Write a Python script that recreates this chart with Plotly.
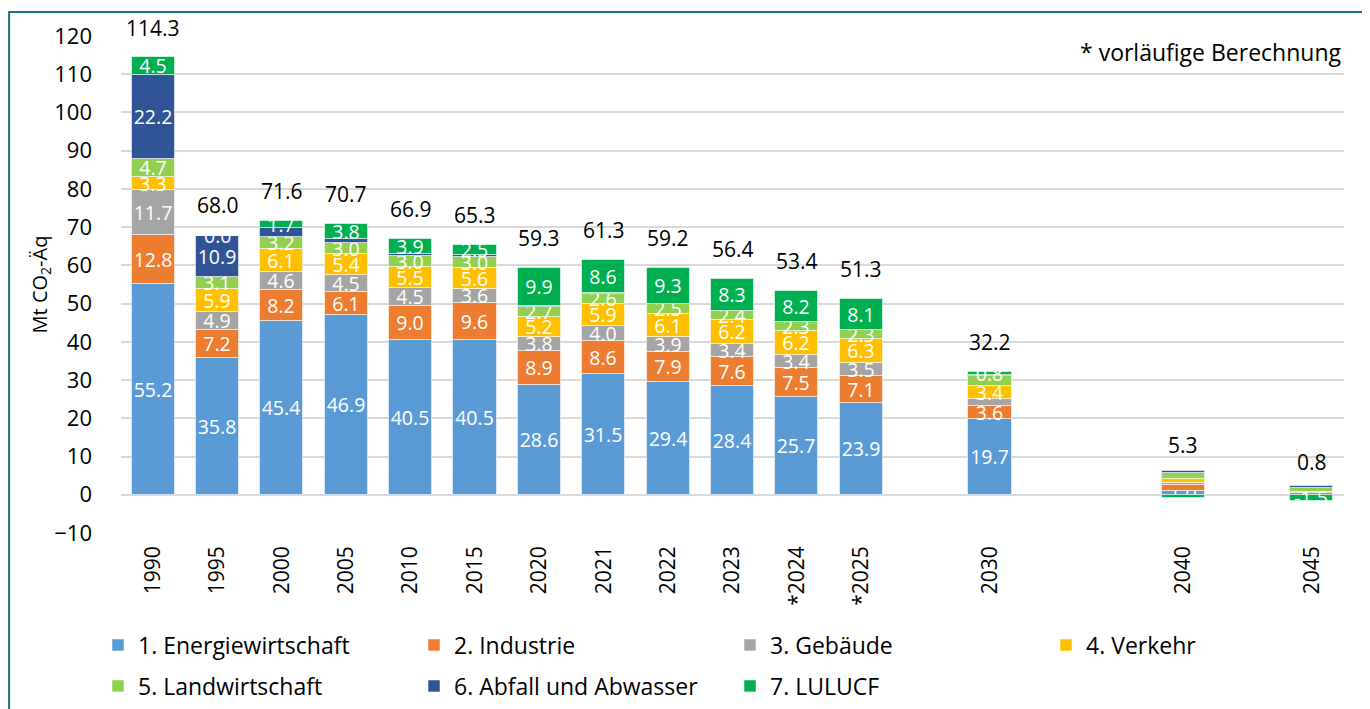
import plotly.graph_objects as go

# ---- data ----
years = ["1990", "1995", "2000", "2005", "2010", "2015", "2020", "2021", "2022",
         "2023", "*2024", "*2025", "2030", "2040", "2045"]
slot = [0, 1, 2, 3, 4, 5, 6, 7, 8, 9, 10, 11, 13, 16, 18]

energie = [55.2, 35.8, 45.4, 46.9, 40.5, 40.5, 28.6, 31.5, 29.4, 28.4, 25.7, 23.9, 19.7, 1.0, 0.0]
industrie = [12.8, 7.2, 8.2, 6.1, 9.0, 9.6, 8.9, 8.6, 7.9, 7.6, 7.5, 7.1, 3.6, 1.6, 0.5]
gebaeude = [11.7, 4.9, 4.6, 4.5, 4.5, 3.6, 3.8, 4.0, 3.9, 3.4, 3.4, 3.5, 1.8, 0.5, 0.1]
verkehr = [3.3, 5.9, 6.1, 5.4, 5.5, 5.6, 5.2, 5.9, 6.1, 6.2, 6.2, 6.3, 3.4, 1.0, 0.0]
landw = [4.7, 3.1, 3.2, 3.0, 3.0, 3.0, 2.7, 2.6, 2.5, 2.4, 2.3, 2.3, 2.6, 1.7, 1.3]
abfall = [22.2, 10.9, 2.4, 1.0, 0.5, 0.5, 0.2, 0.1, 0.1, 0.1, 0.1, 0.1, 0.3, 0.3, 0.4]
lulucf = [4.5, 0.0, 1.7, 3.8, 3.9, 2.5, 9.9, 8.6, 9.3, 8.3, 8.2, 8.1, 0.8, -0.8, -1.5]
totals = [114.3, 68.0, 71.6, 70.7, 66.9, 65.3, 59.3, 61.3, 59.2, 56.4, 53.4, 51.3, 32.2, 5.3, 0.8]

names = ["1. Energiewirtschaft", "2. Industrie", "3. Gebäude", "4. Verkehr",
         "5. Landwirtschaft", "6. Abfall und Abwasser", "7. LULUCF"]
colors = ["#5B9BD5", "#ED7D31", "#A5A5A5", "#FFC000", "#92D050", "#2F5597", "#00B050"]
series = [energie, industrie, gebaeude, verkehr, landw, abfall, lulucf]
# indices of segments that carry no value label in the original
hidden = [
    {14},
    {13, 14},
    {12, 13, 14},
    {13, 14},
    {12, 13, 14},
    {2, 3, 4, 5, 6, 7, 8, 9, 10, 11, 12, 13, 14},
    {13},
]

FONT = "Open Sans"
SEG = 19.5

fig = go.Figure()
pos_top = [0.0] * len(slot)
for k, (nm, col, vals) in enumerate(zip(names, colors, series)):
    txt = ["" if i in hidden[k] else f"{v:.1f}" for i, v in enumerate(vals)]
    fig.add_trace(go.Bar(
        x=slot, y=vals, name=nm, width=0.67,
        marker=dict(color=col, line=dict(color="rgba(255,255,255,0.55)", width=1)),
        text=txt, textposition="inside", insidetextanchor="middle",
        textangle=0, textfont=dict(color="white", size=SEG, family=FONT),
        legend="legend" if k < 4 else "legend2",
        hoverinfo="skip",
    ))
    for i, v in enumerate(vals):
        if v > 0:
            pos_top[i] += v
        elif v == 0 and i not in hidden[k]:
            # zero-height segment: bar text is not drawn, so place its label at the stack top
            fig.add_annotation(x=slot[i], y=pos_top[i], text=f"{v:.1f}", showarrow=False,
                               yanchor="middle", font=dict(size=SEG, color="white", family=FONT))

for xs, t in zip(slot, totals):
    fig.add_annotation(x=xs, y=t, text=f"{t:.1f}", showarrow=False,
                       yanchor="bottom", yshift=14,
                       font=dict(size=21, color="black", family=FONT))

fig.add_annotation(xref="paper", yref="paper", x=1.0, y=0.968, xanchor="right",
                   yanchor="middle", text="* vorläufige Berechnung", showarrow=False,
                   font=dict(size=23, color="black", family=FONT))

# outer frame
fig.add_shape(type="rect", xref="paper", yref="paper",
              x0=-0.0915, x1=1.0172, y0=-0.37, y1=1.0483,
              line=dict(color="#1A7575", width=2), layer="above")

leg_common = dict(orientation="h", xref="paper", yref="paper",
                  x=-0.0188, xanchor="left", yanchor="middle",
                  entrywidth=271, entrywidthmode="pixels",
                  font=dict(size=23, family=FONT, color="#000000"),
                  bgcolor="rgba(0,0,0,0)", traceorder="normal")

fig.update_layout(
    width=1370, height=709,
    margin=dict(l=113, r=34, t=28, b=184, autoexpand=False),
    barmode="relative",
    bargap=0,
    plot_bgcolor="white", paper_bgcolor="white",
    font=dict(family=FONT, size=20, color="#000000"),
    uniformtext=dict(mode="show", minsize=SEG),
    showlegend=True,
    legend=dict(leg_common, y=-0.2254),
    legend2=dict(leg_common, y=-0.3078),
)

fig.update_xaxes(
    range=[-0.5, 18.5], tickmode="array", tickvals=slot, ticktext=years,
    tickangle=-90, ticks="", showgrid=False, zeroline=False, showline=False,
    tickfont=dict(size=21, family=FONT, color="#000000"), ticklabelstandoff=8,
)
fig.update_yaxes(
    range=[-10, 120], dtick=10, tick0=0, showgrid=True, gridcolor="#D9D9D9",
    gridwidth=1.5, zeroline=False, showline=False, ticks="",
    tickfont=dict(size=22, family=FONT, color="#000000"), ticklabelstandoff=28,
    title=dict(text="Mt CO<sub>2</sub>-Äq", font=dict(size=20, family=FONT, color="#000000"),
               standoff=1),
)

fig.write_html("out.html")
